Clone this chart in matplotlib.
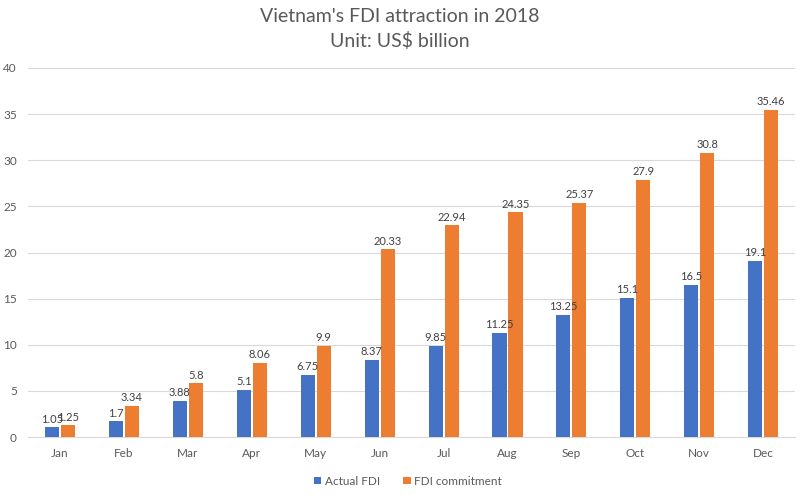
import matplotlib
matplotlib.use('Agg')
import matplotlib.pyplot as plt
import numpy as np

months = ['Jan', 'Feb', 'Mar', 'Apr', 'May', 'Jun', 'Jul', 'Aug', 'Sep', 'Oct', 'Nov', 'Dec']
actual_fdi = [1.05, 1.7, 3.88, 5.1, 6.75, 8.37, 9.85, 11.25, 13.25, 15.1, 16.5, 19.1]
fdi_commitment = [1.25, 3.34, 5.8, 8.06, 9.9, 20.33, 22.94, 24.35, 25.37, 27.9, 30.8, 35.46]
actual_labels = ['1.05', '1.7', '3.88', '5.1', '6.75', '8.37', '9.85', '11.25', '13.25', '15.1', '16.5', '19.1']
commit_labels = ['1.25', '3.34', '5.8', '8.06', '9.9', '20.33', '22.94', '24.35', '25.37', '27.9', '30.8', '35.46']

plt.rcParams['font.family'] = ['Lato', 'DejaVu Sans']

fig = plt.figure(figsize=(8, 5), dpi=100)
ax = fig.add_axes([0.035, 0.126, 0.959, 0.738])

x = np.arange(len(months))
w = 0.22
gap = 0.03
blue = '#4472C4'
orange = '#ED7D31'

b1 = ax.bar(x - (w + gap) / 2, actual_fdi, w, color=blue, label='Actual FDI', zorder=3)
b2 = ax.bar(x + (w + gap) / 2, fdi_commitment, w, color=orange, label='FDI commitment', zorder=3)

ax.bar_label(b1, labels=actual_labels, padding=2, fontsize=8, color='#404040')
ax.bar_label(b2, labels=commit_labels, padding=2, fontsize=8, color='#404040')

ax.set_xlim(-0.5, len(months) - 0.5)
ax.set_ylim(0, 40)
ax.set_yticks(range(0, 41, 5))
ax.set_xticks(x)
ax.set_xticklabels(months)
ax.tick_params(axis='both', length=0, labelsize=8.5, labelcolor='#595959')
ax.tick_params(axis='x', pad=8)
ax.tick_params(axis='y', pad=8)
ax.grid(axis='y', color='#D9D9D9', linewidth=0.8, zorder=0)
for s in ['top', 'right', 'left']:
    ax.spines[s].set_visible(False)
ax.spines['bottom'].set_color('#D9D9D9')

fig.text(0.5, 0.967, "Vietnam's FDI attraction in 2018", ha='center', va='center', fontsize=14, color='#595959')
fig.text(0.5, 0.918, "Unit: US$ billion", ha='center', va='center', fontsize=14, color='#595959')

fig.legend(loc='lower center', bbox_to_anchor=(0.51, 0.005), ncol=2, frameon=False, fontsize=8.5,
           handlelength=0.6, handleheight=0.6, handletextpad=0.3, columnspacing=2, labelcolor='#595959')

fig.savefig('out.png', dpi=100)
